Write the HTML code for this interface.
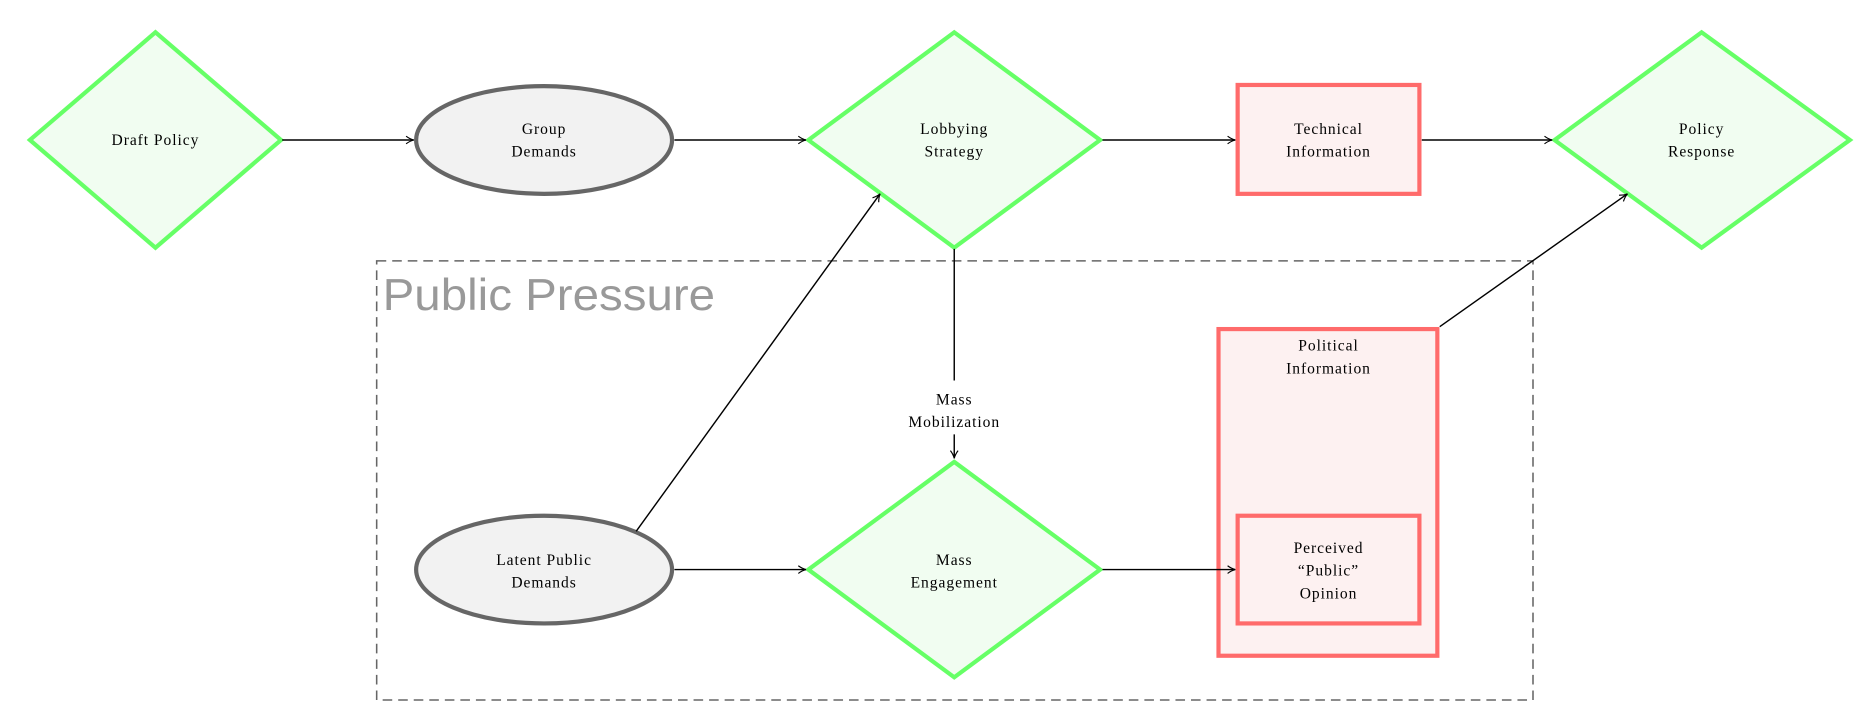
<!DOCTYPE html>
<html><head><meta charset="utf-8"><style>
html,body{margin:0;padding:0;background:#fff;}
svg{display:block;}
text{font-family:"Liberation Serif",serif;font-size:13px;fill:#000;letter-spacing:0.8px;}
</style></head><body>
<svg width="1875" height="706" viewBox="0 0 1568 590" preserveAspectRatio="none" xmlns="http://www.w3.org/2000/svg">
<defs>
<marker id="a" viewBox="0 0 10 10" refX="9" refY="5" markerWidth="8" markerHeight="8" orient="auto" markerUnits="userSpaceOnUse">
<path d="M1,1 Q5,4 9,5 Q5,6 1,9" fill="none" stroke="#000" stroke-width="1.2"/>
</marker>
</defs>
<rect x="315" y="218" width="967" height="367" fill="none" stroke="#666" stroke-width="1.3" stroke-dasharray="8,5"/>
<text x="320" y="259" textLength="278" lengthAdjust="spacingAndGlyphs" style="font-family:'Liberation Sans',sans-serif;font-size:37px;fill:#999;letter-spacing:0">Public Pressure</text>

<g stroke="#66ff66" stroke-width="3.5" fill="#f1fdf1">
<polygon points="25,117 130,27 235,117 130,207"/>
<polygon points="676,117 798,27 920,117 798,207"/>
<polygon points="1300,117 1423,27 1547,117 1423,207"/>
<polygon points="676,476 798,386 920,476 798,566"/>
</g>
<g stroke="#666" stroke-width="3.5" fill="#f2f2f2">
<ellipse cx="455" cy="117" rx="107" ry="45"/>
<ellipse cx="455" cy="476" rx="107" ry="45"/>
</g>
<g stroke="#ff6b6b" stroke-width="3.5" fill="#fdf1f1">
<rect x="1035" y="71" width="152" height="91"/>
<rect x="1019" y="275" width="183" height="273"/>
<rect x="1035" y="431" width="152" height="90"/>
</g>

<g stroke="#000" stroke-width="1.2" fill="none">
<line x1="236" y1="117" x2="346" y2="117" marker-end="url(#a)"/>
<line x1="564" y1="117" x2="674" y2="117" marker-end="url(#a)"/>
<line x1="922" y1="117" x2="1033" y2="117" marker-end="url(#a)"/>
<line x1="1189" y1="117" x2="1298" y2="117" marker-end="url(#a)"/>
<line x1="532" y1="444" x2="736" y2="162" marker-end="url(#a)"/>
<line x1="798" y1="208" x2="798" y2="318"/>
<line x1="798" y1="363" x2="798" y2="383" marker-end="url(#a)"/>
<line x1="564" y1="476" x2="674" y2="476" marker-end="url(#a)"/>
<line x1="922" y1="476" x2="1033" y2="476" marker-end="url(#a)"/>
<line x1="1204" y1="273" x2="1361" y2="162" marker-end="url(#a)"/>
</g>

<g text-anchor="middle">
<text x="130" y="121">Draft Policy</text>
<text x="455" y="112">Group</text><text x="455" y="131">Demands</text>
<text x="798" y="112">Lobbying</text><text x="798" y="131">Strategy</text>
<text x="1111" y="112">Technical</text><text x="1111" y="131">Information</text>
<text x="1423" y="112">Policy</text><text x="1423" y="131">Response</text>
<text x="798" y="338">Mass</text><text x="798" y="357">Mobilization</text>
<text x="1111" y="293">Political</text><text x="1111" y="312">Information</text>
<text x="455" y="472">Latent Public</text><text x="455" y="491">Demands</text>
<text x="798" y="472">Mass</text><text x="798" y="491">Engagement</text>
<text x="1111" y="462">Perceived</text><text x="1111" y="481">“Public”</text><text x="1111" y="500">Opinion</text>
</g>
</svg>
</body></html>
